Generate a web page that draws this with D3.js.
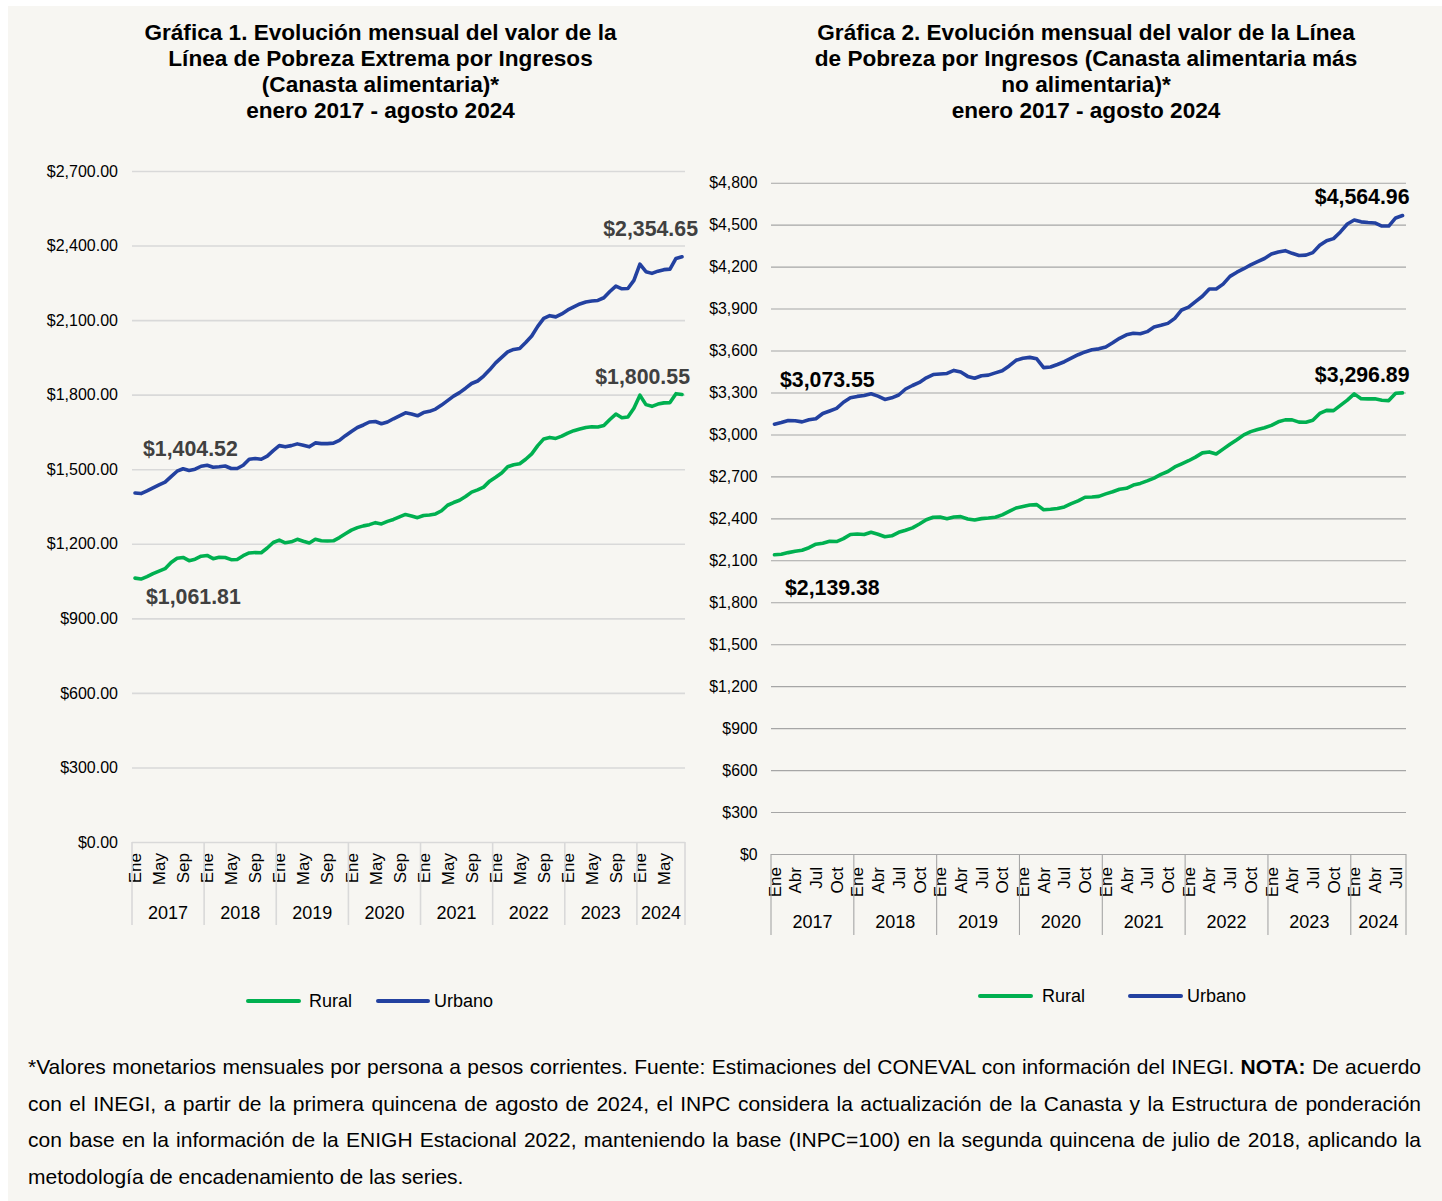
<!DOCTYPE html>
<html>
<head>
<meta charset="utf-8">
<script src="https://cdn.jsdelivr.net/npm/d3@7"></script>
<style>
body { margin: 0; background: #fff; font-family: "Liberation Sans", Arial, sans-serif; }
#wrap { position: relative; width: 1442px; height: 1201px; overflow: hidden; }
#chart { position: absolute; left: 0; top: 0; }
#nota { position: absolute; left: 28px; top: 1049px; width: 1393px; font-size: 21px; color: #000; }
#nota div { height: 36.5px; line-height: 36.5px; white-space: nowrap; text-align: justify; text-align-last: justify; }
#nota div.ultima { text-align-last: left; }
</style>
</head>
<body>
<div id="wrap">
  <svg id="chart" width="1442" height="1201"></svg>
  <div id="nota"></div>
</div>
<script>
//Datos
const anios = ['2017', '2018', '2019', '2020', '2021', '2022', '2023', '2024'];
const mesesPorAnio = [12, 12, 12, 12, 12, 12, 12, 8];
const mesesAbr = ['Ene', 'Feb', 'Mar', 'Abr', 'May', 'Jun', 'Jul', 'Ago', 'Sep', 'Oct', 'Nov', 'Dic'];

//Gráfica 1: Línea de Pobreza Extrema por Ingresos
const lpeiRural = [
    1061.81, 1058, 1068, 1080, 1090, 1100, 1125, 1142, 1145, 1132, 1138, 1150,
    1153, 1140, 1146, 1145, 1136, 1137, 1152, 1163, 1165, 1164, 1183, 1205,
    1215, 1204, 1208, 1218, 1210, 1203, 1218, 1212, 1211, 1212, 1225, 1240,
    1255, 1265, 1272, 1277, 1285, 1280, 1290, 1298, 1308, 1318, 1312, 1305,
    1314, 1316, 1320, 1333, 1355, 1366, 1375, 1390, 1408, 1417, 1428, 1452,
    1468, 1485, 1510, 1518, 1522, 1540, 1562, 1595, 1622, 1628, 1624, 1633,
    1645, 1655, 1662, 1668, 1671, 1670, 1676, 1700, 1722, 1707, 1710, 1745,
    1798, 1760, 1753, 1762, 1767, 1768, 1804, 1800.55
];
const lpeiUrbano = [
    1404.52, 1402, 1413, 1425, 1437, 1448, 1470, 1492, 1502, 1495, 1500, 1512,
    1516, 1508, 1510, 1513, 1503, 1503, 1516, 1540, 1543, 1540, 1553, 1575,
    1595, 1590, 1595, 1602, 1596, 1590, 1606, 1603, 1603, 1605, 1616, 1635,
    1652, 1668, 1678, 1690, 1692, 1683, 1690, 1703, 1715, 1727, 1722, 1715,
    1728, 1733, 1742, 1758, 1776, 1794, 1808, 1826, 1845, 1855, 1875, 1900,
    1928, 1950, 1972, 1982, 1986, 2010, 2036, 2075, 2107, 2118, 2113, 2125,
    2141, 2153, 2165, 2173, 2177, 2179, 2190, 2215, 2237, 2226, 2227, 2260,
    2325, 2295, 2288, 2297, 2303, 2305, 2348, 2354.65
];

//Gráfica 2: Línea de Pobreza por Ingresos
const lpiRural = [
    2139.38, 2143, 2155, 2165, 2172, 2190, 2215, 2222, 2236, 2234, 2255, 2285,
    2288, 2284, 2300, 2286, 2268, 2275, 2300, 2315, 2332, 2360, 2390, 2408,
    2410, 2398, 2410, 2412, 2395, 2388, 2398, 2402, 2408, 2425, 2450, 2474,
    2485, 2496, 2498, 2462, 2465, 2470, 2482, 2505, 2525, 2551, 2553, 2557,
    2575, 2590, 2608, 2615, 2638, 2650, 2668, 2688, 2715, 2735, 2768, 2790,
    2812, 2838, 2868, 2875, 2860, 2895, 2930, 2962, 2997, 3020, 3035, 3048,
    3065, 3090, 3104, 3104, 3088, 3087, 3102, 3150, 3172, 3170, 3208, 3245,
    3290, 3255, 3254, 3255, 3245, 3242, 3295, 3296.89
];
const lpiUrbano = [
    3073.55, 3085, 3100, 3098, 3090, 3105, 3112, 3150, 3168, 3186, 3230, 3262,
    3272, 3278, 3291, 3274, 3250, 3262, 3282, 3325, 3350, 3372, 3405, 3428,
    3432, 3436, 3458, 3446, 3415, 3402, 3420, 3424, 3440, 3455, 3490, 3530,
    3545, 3551, 3541, 3478, 3482, 3500, 3520, 3545, 3570, 3590, 3605, 3612,
    3625, 3655, 3687, 3712, 3723, 3720, 3735, 3768, 3780, 3794, 3830, 3890,
    3910, 3950, 3988, 4040, 4040, 4075, 4130, 4160, 4185, 4212, 4235, 4258,
    4290, 4305, 4314, 4295, 4280, 4282, 4300, 4352, 4385, 4400, 4448, 4505,
    4533, 4520, 4515, 4512, 4490, 4490, 4548, 4564.96
];

const ticksG1 = d3.range(0, 2701, 300);
const ticksG2 = d3.range(0, 4801, 300);

const tituloG1 = ['Gráfica 1. Evolución mensual del valor de la', 'Línea de Pobreza Extrema por Ingresos', '(Canasta alimentaria)*', 'enero 2017 - agosto 2024'];
const tituloG2 = ['Gráfica 2. Evolución mensual del valor de la Línea', 'de Pobreza por Ingresos (Canasta alimentaria más', 'no alimentaria)*', 'enero 2017 - agosto 2024'];

const notaLineas = [
    '*Valores monetarios mensuales por persona a pesos corrientes. Fuente: Estimaciones del CONEVAL con información del INEGI. <b>NOTA:</b> De acuerdo',
    'con el INEGI, a partir de la primera quincena de agosto de 2024, el INPC considera la actualización de la Canasta y la Estructura de ponderación',
    'con base en la información de la ENIGH Estacional 2022, manteniendo la base (INPC=100) en la segunda quincena de julio de 2018, aplicando la',
    'metodología de encadenamiento de las series.'
];

//Colores fijos
const COLOR_RURAL = '#00b050',
    COLOR_URBANO = '#2341a0',
    FUENTE = '"Liberation Sans", Arial, sans-serif';

//Periodos (mes, año)
let periodos = [];
anios.forEach(function(a, k) {
    for (let m = 0; m < mesesPorAnio[k]; m++) {
        periodos.push({ anio: a, mes: mesesAbr[m], idx: periodos.length });
    }
});

let svg = d3.select('#chart').style('font-family', FUENTE);

svg.append('rect')
    .attr('x', 8).attr('y', 6)
    .attr('width', 1434).attr('height', 1195)
    .attr('fill', '#f7f6f2');

function dibujarGrafica(cfg) {
    let g = svg.append('g');

    let x = d3.scaleBand()
        .domain(periodos.map(function(d) { return d.idx; }))
        .range([cfg.left, cfg.right]);
    let xc = function(i) { return x(i) + x.bandwidth() / 2; };

    let y = d3.scaleLinear()
        .domain([0, cfg.max])
        .range([cfg.bottom, cfg.top]);

    //Título
    let titulo = g.append('text')
        .attr('text-anchor', 'middle')
        .attr('font-weight', 'bold')
        .attr('font-size', 22.6)
        .attr('fill', '#000');
    cfg.titulo.forEach(function(linea, k) {
        titulo.append('tspan')
            .attr('x', cfg.titleX)
            .attr('y', cfg.titleY + k * 26)
            .text(linea);
    });

    //Eje Y + rejilla
    let yAxis = d3.axisLeft(y)
        .tickValues(cfg.ticks)
        .tickSize(-(cfg.right - cfg.left))
        .tickPadding(cfg.tickPad)
        .tickFormat(cfg.fmt);

    let gy = g.append('g')
        .attr('transform', 'translate(' + cfg.left + ',0)')
        .call(yAxis)
        .attr('font-family', FUENTE)
        .attr('font-size', cfg.tickFont);
    gy.select('.domain').remove();
    gy.selectAll('.tick line')
        .attr('stroke', cfg.gridColor)
        .attr('stroke-width', cfg.gridWidth);
    gy.selectAll('.tick text').attr('fill', '#000');

    //Eje X: meses
    g.append('g')
        .selectAll('text')
        .data(periodos.filter(function(d) { return d.idx % cfg.cada === 0; }))
        .enter()
        .append('text')
        .attr('transform', function(d) { return 'translate(' + xc(d.idx) + ',' + (cfg.bottom + cfg.mesPad) + ') rotate(-90)'; })
        .attr('text-anchor', 'end')
        .attr('dy', '0.36em')
        .attr('font-size', 17)
        .attr('fill', '#000')
        .text(function(d) { return d.mes; });

    //Eje X: años
    let grupos = anios.map(function(a) {
        let ps = periodos.filter(function(d) { return d.anio === a; });
        return { anio: a, x0: x(ps[0].idx), x1: x(ps[ps.length - 1].idx) + x.bandwidth() };
    });

    let gs = g.append('g');
    gs.selectAll('line')
        .data(grupos.map(function(d) { return d.x0; }).concat([cfg.right]))
        .enter()
        .append('line')
        .attr('x1', function(d) { return d; })
        .attr('x2', function(d) { return d; })
        .attr('y1', cfg.bottom)
        .attr('y2', cfg.bottom + cfg.sepLen)
        .attr('stroke', cfg.gridColor)
        .attr('stroke-width', cfg.gridWidth);

    gs.selectAll('text')
        .data(grupos)
        .enter()
        .append('text')
        .attr('x', function(d) { return (d.x0 + d.x1) / 2; })
        .attr('y', cfg.bottom + cfg.anioPad)
        .attr('text-anchor', 'middle')
        .attr('font-size', 18)
        .attr('fill', '#000')
        .text(function(d) { return d.anio; });

    //Líneas
    let linea = d3.line()
        .x(function(d, i) { return xc(i); })
        .y(function(d) { return y(d); })
        .curve(d3.curveLinear);

    cfg.series.forEach(function(s) {
        g.append('path')
            .datum(s.valores)
            .attr('d', linea)
            .attr('fill', 'none')
            .attr('stroke', s.color)
            .attr('stroke-width', 3.6)
            .attr('stroke-linejoin', 'round')
            .attr('stroke-linecap', 'round');
    });

    //Etiquetas de valores
    cfg.etiquetas.forEach(function(e) {
        let v = cfg.series[e.serie].valores[e.idx];
        g.append('text')
            .attr('x', xc(e.idx) + e.dx)
            .attr('y', y(v) + e.dy)
            .attr('text-anchor', e.anchor)
            .attr('font-weight', 'bold')
            .attr('font-size', 21.3)
            .attr('fill', cfg.etiquetaColor)
            .text(d3.format('$,.2f')(v));
    });

    //Leyenda
    cfg.leyenda.forEach(function(l, k) {
        g.append('line')
            .attr('x1', l.x1).attr('x2', l.x2)
            .attr('y1', cfg.leyendaY).attr('y2', cfg.leyendaY)
            .attr('stroke', cfg.series[k].color)
            .attr('stroke-width', 4)
            .attr('stroke-linecap', 'round');
        g.append('text')
            .attr('x', l.tx)
            .attr('y', cfg.leyendaY)
            .attr('dy', '0.35em')
            .attr('font-size', 18)
            .attr('fill', '#000')
            .text(cfg.series[k].nombre);
    });
}

dibujarGrafica({
    titulo: tituloG1, titleX: 380.5, titleY: 40,
    left: 132, right: 685, top: 171, bottom: 842, max: 2700,
    ticks: ticksG1, tickPad: 14, tickFont: 16,
    fmt: function(d) { return '$' + d3.format(',.2f')(d); },
    gridColor: '#d9d9d9', gridWidth: 1.6,
    cada: 4, mesPad: 11, sepLen: 83, anioPad: 77,
    series: [
        { nombre: 'Rural', valores: lpeiRural, color: COLOR_RURAL },
        { nombre: 'Urbano', valores: lpeiUrbano, color: COLOR_URBANO }
    ],
    etiquetaColor: '#404040',
    etiquetas: [
        { serie: 1, idx: 91, dx: 16, dy: -21, anchor: 'end' },
        { serie: 0, idx: 91, dx: 8, dy: -11, anchor: 'end' },
        { serie: 1, idx: 0, dx: 8, dy: -37, anchor: 'start' },
        { serie: 0, idx: 0, dx: 11, dy: 25.5, anchor: 'start' }
    ],
    leyendaY: 1001,
    leyenda: [
        { x1: 248, x2: 299, tx: 309 },
        { x1: 378, x2: 428, tx: 434 }
    ]
});

dibujarGrafica({
    titulo: tituloG2, titleX: 1086, titleY: 40,
    left: 771, right: 1406, top: 182.7, bottom: 854, max: 4800,
    ticks: ticksG2, tickPad: 13.5, tickFont: 15.8,
    fmt: d3.format('$,'),
    gridColor: '#a6a6a6', gridWidth: 1.1,
    cada: 3, mesPad: 13, sepLen: 81, anioPad: 74,
    series: [
        { nombre: 'Rural', valores: lpiRural, color: COLOR_RURAL },
        { nombre: 'Urbano', valores: lpiUrbano, color: COLOR_URBANO }
    ],
    etiquetaColor: '#000',
    etiquetas: [
        { serie: 1, idx: 91, dx: 7, dy: -12, anchor: 'end' },
        { serie: 0, idx: 91, dx: 7, dy: -10.6, anchor: 'end' },
        { serie: 1, idx: 0, dx: 5.5, dy: -37, anchor: 'start' },
        { serie: 0, idx: 0, dx: 10.5, dy: 40, anchor: 'start' }
    ],
    leyendaY: 996,
    leyenda: [
        { x1: 980, x2: 1031, tx: 1042 },
        { x1: 1130, x2: 1181, tx: 1187 }
    ]
});

//Nota al pie
d3.select('#nota')
    .selectAll('div')
    .data(notaLineas)
    .enter()
    .append('div')
    .attr('class', function(d, i) { return i === notaLineas.length - 1 ? 'ultima' : null; })
    .html(function(d) { return d; });
</script>
</body>
</html>
